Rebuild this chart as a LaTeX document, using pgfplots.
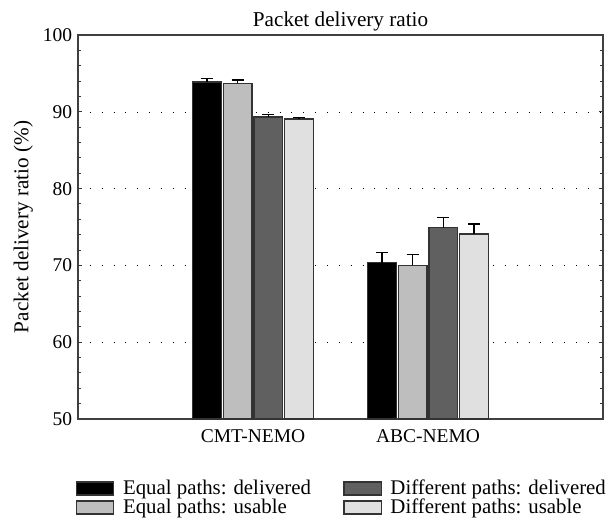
\documentclass[border=0pt]{standalone}
\usepackage{fontspec}
\setmainfont{Liberation Serif}
\usepackage{pgfplots}
\pgfplotsset{compat=1.18}
\definecolor{eqdel}{RGB}{0,0,0}
\definecolor{equse}{RGB}{190,190,190}
\definecolor{difdel}{RGB}{96,96,96}
\definecolor{difuse}{RGB}{224,224,224}
\newcommand{\lblfont}{\fontsize{12.5}{14}\selectfont}
\begin{document}
\begin{tikzpicture}
\begin{axis}[
    scale only axis,
    width=310pt, height=226.7pt,
    ymin=50, ymax=100,
    ytick={50,60,...,100},
    minor y tick num=4,
    xmin=-1, xmax=2,
    xtick={0,1},
    xticklabels={CMT-NEMO, ABC-NEMO},
    x tick style={draw=none},
    y tick style={black!80, line width=0.6pt},
    major tick length=2.5pt,
    minor tick length=1.8pt,
    tick align=inside,
    axis line style={black!75, line width=0.7pt},
    ymajorgrids,
    grid style={black, dash pattern=on 0.6pt off 6.4pt},
    title={Packet delivery ratio},
    title style={yshift=-7pt, font=\lblfont},
    ylabel={Packet delivery ratio (\%)},
    ylabel style={yshift=-1pt, font=\lblfont},
    tick label style={font=\fontsize{11.5}{13}\selectfont},
    /pgf/number format/assume math mode=true,
    ybar,
    bar width=0.165,
    legend columns=2,
    transpose legend,
    legend cell align=left,
    legend style={draw=none, fill=none, at={(0,0)}, anchor=north west,
        yshift=-32pt, xshift=-4.5pt,
        /tikz/every even column/.append style={column sep=17pt},
        row sep=-3pt, font=\fontsize{12.3}{14}\selectfont},
    legend image code/.code={\draw[#1, draw=black!80, line width=0.8pt] (0pt,-3.6pt) rectangle (22pt,4pt);
        \path[draw=none, fill=none] (25.5pt,0pt);},
    every axis plot/.append style={draw=black!80, line width=0.8pt,
        error bars/y dir=plus, error bars/y explicit,
        error bars/error bar style={black, line width=0.8pt},
        error bars/error mark options={rotate=90, black, mark size=3.6pt, line width=0.8pt}},
]
\addplot[fill=eqdel, bar shift=-0.2625] coordinates {(0,93.9) +- (0,0.45) (1,70.35) +- (0,1.35)};
\addplot[fill=equse, bar shift=-0.0875] coordinates {(0,93.7) +- (0,0.45) (1,70.0) +- (0,1.4)};
\addplot[fill=difdel, bar shift=0.0875] coordinates {(0,89.35) +- (0,0.3) (1,74.9) +- (0,1.3)};
\addplot[fill=difuse, bar shift=0.2625] coordinates {(0,89.05) +- (0,0.25) (1,74.1) +- (0,1.3)};
\legend{Equal paths: delivered, Equal paths: usable, Different paths: delivered, Different paths: usable}
\end{axis}
\pgfresetboundingbox
\path[use as bounding box] ([xshift=-46.06pt, yshift=20.7pt]current axis.north west)
    rectangle ([xshift=4.7pt, yshift=-62pt]current axis.south east);
\end{tikzpicture}
\end{document}
